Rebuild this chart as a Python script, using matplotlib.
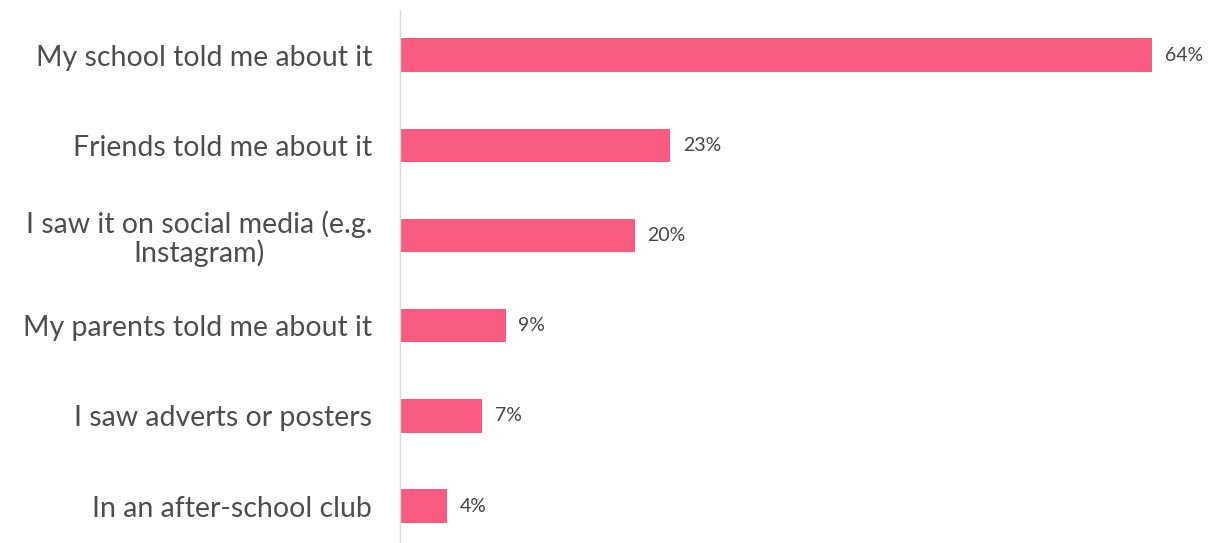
import matplotlib
matplotlib.use("Agg")
import matplotlib.pyplot as plt

categories = [
    "My school told me about it",
    "Friends told me about it",
    "I saw it on social media (e.g.\nInstagram)",
    "My parents told me about it",
    "I saw adverts or posters",
    "In an after-school club",
]
values = [64, 23, 20, 9, 7, 4]
value_labels = ["64%", "23%", "20%", "9%", "7%", "4%"]

plt.rcParams['font.family'] = ['Lato', 'DejaVu Sans']

fig = plt.figure(figsize=(12.18, 5.43), dpi=100)
ax = fig.add_axes([400/1218, 0.0, 799/1218, 1 - 10/543])

ypos = list(range(len(categories)))
bars = ax.barh(ypos, values, height=0.37, color="#F95A80")
ax.set_xlim(0, 68)
ax.set_ylim(5.41, -0.5)

ax.set_yticks(ypos)
ax.set_yticklabels(categories, fontsize=20.5, color="#4d4d4d", ha="right",
                   multialignment="center", linespacing=1.05)
ax.tick_params(axis="y", length=0, pad=20)
ax.set_xticks([])
for s in ["top", "right", "bottom"]:
    ax.spines[s].set_visible(False)
ax.spines["left"].set_color("#d9d9d9")
ax.spines["left"].set_linewidth(1.0)

for b, lab in zip(bars, value_labels):
    ax.annotate(lab, (b.get_width(), b.get_y() + b.get_height() / 2),
                xytext=(9, 0), textcoords="offset points", fontsize=14,
                color="#444444", va="center", ha="left")

fig.savefig("out.png", dpi=100)
